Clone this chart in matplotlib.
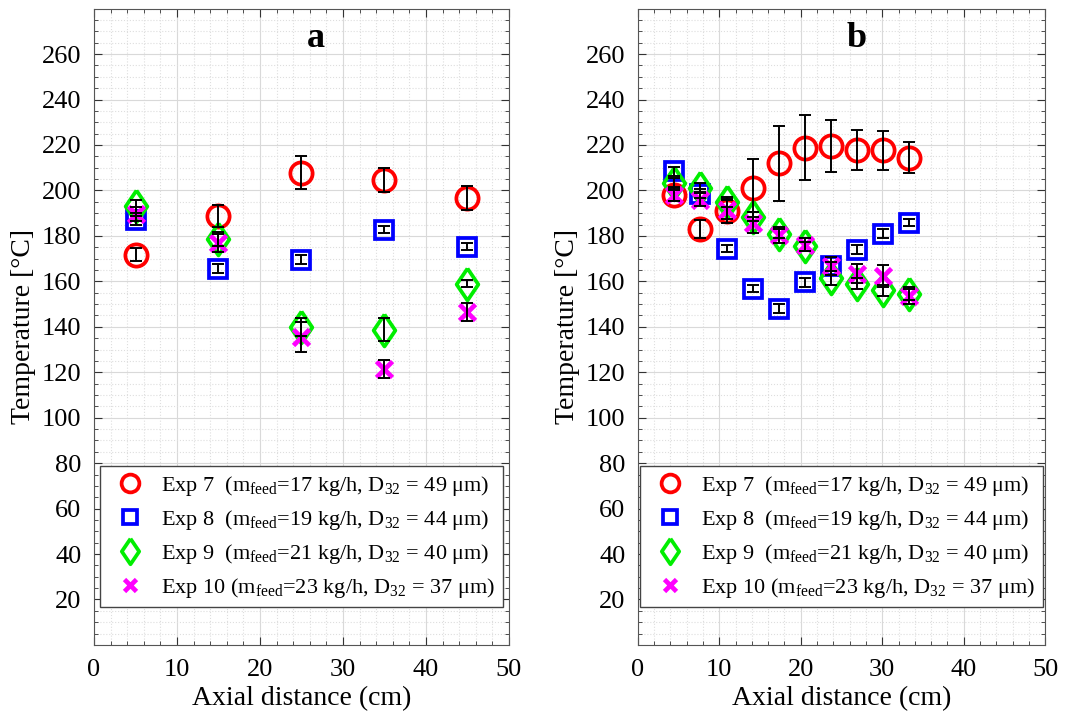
import matplotlib
matplotlib.use("Agg")
import matplotlib.pyplot as plt
from matplotlib.ticker import MultipleLocator

plt.rcParams['font.family'] = ['Liberation Serif', 'DejaVu Serif']
plt.rcParams['mathtext.fontset'] = 'custom'
plt.rcParams['mathtext.rm'] = 'Liberation Serif'
plt.rcParams['mathtext.it'] = 'Liberation Serif:italic'

# panel a
x_a = [5, 15, 25, 35, 45]
exp7_a = [171.8, 188.8, 207.8, 204.5, 196.5]
exp7_a_err = [2.7, 5.0, 7.2, 5.2, 5.3]
exp8_a = [186.8, 165.5, 169.6, 182.8, 175.3]
exp8_a_err = [2.0, 2.0, 2.0, 1.5, 1.5]
exp9_a = [193.0, 178.5, 139.8, 138.8, 158.9]
exp9_a_err = [3.0, 3.0, 4.0, 4.9, 1.5]
exp10_a = [189.5, 177.0, 135.5, 121.4, 146.5]
exp10_a_err = [3.0, 4.0, 6.5, 3.8, 4.0]

# panel b
x_b = [4.4, 7.6, 10.9, 14.1, 17.3, 20.5, 23.7, 26.9, 30.1, 33.3]
exp7_b = [197.8, 183.1, 190.9, 201.2, 211.9, 218.8, 219.5, 218.0, 217.7, 214.4]
exp7_b_err = [2.5, 4.1, 5.3, 12.8, 16.6, 14.3, 11.5, 8.8, 8.5, 6.9]
exp8_b = [208.5, 198.5, 174.3, 156.7, 147.9, 159.6, 166.7, 174.0, 180.9, 185.8]
exp8_b_err = [2.0, 2.0, 1.5, 1.5, 2.0, 2.0, 2.0, 2.0, 2.0, 1.5]
exp9_b = [203.4, 201.2, 194.9, 188.4, 180.9, 175.5, 161.5, 159.0, 156.1, 154.6]
exp9_b_err = [2.0, 2.0, 2.0, 2.0, 2.0, 2.0, 3.0, 2.5, 2.5, 3.0]
exp10_b = [198.2, 196.0, 191.6, 185.8, 180.2, 176.2, 166.7, 163.4, 162.3, 153.4]
exp10_b_err = [3.0, 3.0, 4.0, 4.5, 3.5, 3.0, 4.0, 4.3, 5.0, 3.3]

labels = [
    r"Exp 7  (m$_{\mathrm{feed}}$=17 kg/h, D$_{32}$ = 49 μm)",
    r"Exp 8  (m$_{\mathrm{feed}}$=19 kg/h, D$_{32}$ = 44 μm)",
    r"Exp 9  (m$_{\mathrm{feed}}$=21 kg/h, D$_{32}$ = 40 μm)",
    r"Exp 10 (m$_{\mathrm{feed}}$=23 kg/h, D$_{32}$ = 37 μm)",
]
# matlab-style diamond: taller than wide
diamond = [(0, 1), (0.68, 0), (0, -1), (-0.68, 0), (0, 1)]
colors = ['#ff0000', '#0000ff', '#00ee00', '#ff00ff']
markers = ['o', 's', diamond, 'x']
sizes = [16, 13, 23, 11]


def draw_panel(ax, x, series, errors, letter):
    handles = []
    for y, e, c, m, ms, lab in zip(series, errors, colors, markers, sizes, labels):
        if m == 'x':
            h, = ax.plot(x, y, linestyle='none', marker='x', color=c,
                         ms=ms, mew=3.4, label=lab, zorder=2)
        else:
            h, = ax.plot(x, y, linestyle='none', marker=m, mfc='none',
                         mec=c, ms=ms, mew=2.7, label=lab, zorder=2)
        handles.append(h)
        ax.errorbar(x, y, yerr=e, fmt='none', ecolor='black', elinewidth=1.4,
                    capsize=4, capthick=1.4, zorder=3)

    ax.set_xlim(0, 50)
    ax.set_ylim(0, 280)
    ax.set_xticks([0, 10, 20, 30, 40, 50])
    ax.set_yticks(range(20, 261, 20))
    ax.xaxis.set_minor_locator(MultipleLocator(2))
    ax.yaxis.set_minor_locator(MultipleLocator(5))
    ax.tick_params(which='both', direction='in', top=True, right=True, labelsize=19,
                   color='#333333')
    ax.tick_params(which='major', length=6)
    ax.tick_params(which='minor', length=3)
    ax.tick_params(axis='x', pad=10)
    ax.tick_params(axis='y', pad=9)
    ax.grid(which='major', color='#d9d9d9', linewidth=0.8)
    ax.grid(which='minor', color='#dedede', linestyle=':', linewidth=0.8)
    ax.set_axisbelow(True)
    for s in ax.spines.values():
        s.set_color('#555555')
    ax.set_xlabel("Axial distance (cm)", fontsize=20)
    ax.set_ylabel("Temperature [°C]", fontsize=20)
    ax.text(26.8, 267, letter, ha='center', va='center', fontsize=26, fontweight='bold')

    leg = ax.legend(handles=handles, loc='lower center', bbox_to_anchor=(0.5, 0.052),
                    fontsize=16, frameon=True, fancybox=False, markerscale=0.8,
                    handletextpad=0.4, borderpad=0.35, labelspacing=0.45,
                    handlelength=2.0, borderaxespad=0.2)
    leg.get_frame().set_edgecolor('#444444')
    leg.get_frame().set_linewidth(1.0)
    leg.get_frame().set_alpha(1)


fig = plt.figure(figsize=(10.72, 7.19), dpi=100)
ax1 = fig.add_axes([0.0877, 0.103, 0.387, 0.885])
ax2 = fig.add_axes([0.595, 0.103, 0.380, 0.885])

draw_panel(ax1, x_a, [exp7_a, exp8_a, exp9_a, exp10_a],
           [exp7_a_err, exp8_a_err, exp9_a_err, exp10_a_err], 'a')
draw_panel(ax2, x_b, [exp7_b, exp8_b, exp9_b, exp10_b],
           [exp7_b_err, exp8_b_err, exp9_b_err, exp10_b_err], 'b')

fig.savefig('out.png', dpi=100)
